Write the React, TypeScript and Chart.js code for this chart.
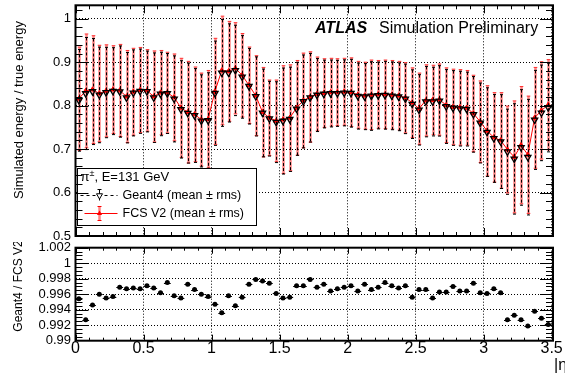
import React, { useEffect, useRef } from 'react';
import { Chart, registerables } from 'chart.js';

Chart.register(...registerables);

const FONT = '"Liberation Sans", Arial, Helvetica, sans-serif';

// |eta| bin centres (bin width 0.05)
const etaCenters = [
  0.025, 0.075, 0.125, 0.175, 0.225, 0.275, 0.325, 0.375, 0.425, 0.475,
  0.525, 0.575, 0.625, 0.675, 0.725, 0.775, 0.825, 0.875, 0.925, 0.975,
  1.025, 1.075, 1.125, 1.175, 1.225, 1.275, 1.325, 1.375, 1.425, 1.475,
  1.525, 1.575, 1.625, 1.675, 1.725, 1.775, 1.825, 1.875, 1.925, 1.975,
  2.025, 2.075, 2.125, 2.175, 2.225, 2.275, 2.325, 2.375, 2.425, 2.475,
  2.525, 2.575, 2.625, 2.675, 2.725, 2.775, 2.825, 2.875, 2.925, 2.975,
  3.025, 3.075, 3.125, 3.175, 3.225, 3.275, 3.325, 3.375, 3.425, 3.475,
];
const binHalfWidth = 0.025;

// FCS V2 mean response
const fcsMean = [
  0.816, 0.834, 0.837, 0.828, 0.834, 0.837, 0.835, 0.821, 0.832, 0.836,
  0.835, 0.821, 0.830, 0.830, 0.819, 0.795, 0.785, 0.780, 0.768, 0.769,
  0.833, 0.881, 0.879, 0.886, 0.870, 0.847, 0.823, 0.785, 0.772, 0.765,
  0.768, 0.772, 0.795, 0.812, 0.820, 0.827, 0.829, 0.831, 0.831, 0.832,
  0.831, 0.825, 0.823, 0.825, 0.826, 0.826, 0.825, 0.823, 0.818, 0.807,
  0.793, 0.812, 0.813, 0.814, 0.801, 0.797, 0.796, 0.795, 0.782, 0.763,
  0.742, 0.727, 0.720, 0.699, 0.682, 0.709, 0.687, 0.772, 0.789, 0.802,
];
// FCS V2 rms
const fcsRms = [
  0.119, 0.131, 0.124, 0.111, 0.106, 0.101, 0.106, 0.106, 0.100, 0.098,
  0.094, 0.105, 0.097, 0.093, 0.100, 0.114, 0.117, 0.109, 0.107, 0.112,
  0.122, 0.125, 0.115, 0.105, 0.096, 0.088, 0.092, 0.103, 0.087, 0.094,
  0.124, 0.122, 0.109, 0.109, 0.104, 0.085, 0.079, 0.078, 0.077, 0.077,
  0.079, 0.077, 0.077, 0.080, 0.078, 0.079, 0.079, 0.079, 0.081, 0.080,
  0.082, 0.082, 0.080, 0.082, 0.086, 0.087, 0.087, 0.086, 0.088, 0.094,
  0.104, 0.103, 0.110, 0.100, 0.129, 0.135, 0.135, 0.116, 0.112, 0.104,
];
// Geant4 rms
const g4Rms = [
  0.117, 0.129, 0.122, 0.110, 0.104, 0.100, 0.105, 0.104, 0.099, 0.097,
  0.093, 0.103, 0.096, 0.092, 0.099, 0.112, 0.115, 0.108, 0.106, 0.110,
  0.120, 0.123, 0.113, 0.104, 0.095, 0.087, 0.091, 0.101, 0.086, 0.093,
  0.122, 0.120, 0.107, 0.107, 0.102, 0.084, 0.078, 0.077, 0.076, 0.076,
  0.078, 0.076, 0.076, 0.079, 0.077, 0.078, 0.078, 0.078, 0.080, 0.079,
  0.081, 0.081, 0.079, 0.081, 0.085, 0.086, 0.086, 0.085, 0.087, 0.092,
  0.102, 0.101, 0.108, 0.098, 0.127, 0.133, 0.133, 0.114, 0.110, 0.102,
];
// Geant4 / FCS V2 ratio of the means
const ratio = [
  0.9954, 0.9927, 0.9946, 0.9960, 0.9955, 0.9957, 0.9969, 0.9967, 0.9968, 0.9967,
  0.9971, 0.9968, 0.9962, 0.9975, 0.9958, 0.9955, 0.9973, 0.9966, 0.9960, 0.9957,
  0.9947, 0.9936, 0.9958, 0.9945, 0.9956, 0.9973, 0.9979, 0.9977, 0.9974, 0.9961,
  0.9955, 0.9956, 0.9971, 0.9971, 0.9979, 0.9969, 0.9973, 0.9964, 0.9967, 0.9969,
  0.9971, 0.9964, 0.9973, 0.9966, 0.9969, 0.9975, 0.9971, 0.9968, 0.9971, 0.9956,
  0.9966, 0.9966, 0.9955, 0.9963, 0.9963, 0.9970, 0.9964, 0.9964, 0.9974, 0.9962,
  0.9961, 0.9967, 0.9962, 0.9927, 0.9933, 0.9927, 0.9919, 0.9938, 0.9929, 0.9921,
];
// Geant4 mean = FCS mean x ratio
const g4Mean = fcsMean.map((m, i) => m * ratio[i]);

const topYTicks = [0.5, 0.6, 0.7, 0.8, 0.9, 1.0];
const topYLabels = ['0.5', '0.6', '0.7', '0.8', '0.9', '1'];
const ratioYTicks = [0.99, 0.992, 0.994, 0.996, 0.998, 1.0, 1.002];
const ratioYLabels = ['0.99', '0.992', '0.994', '0.996', '0.998', '1', '1.002'];
const xTicks = [0, 0.5, 1, 1.5, 2, 2.5, 3, 3.5];
const xTickLabels = ['0', '0.5', '1', '1.5', '2', '2.5', '3', '3.5'];

const X_MIN = 0;
const X_MAX = 3.51;

function steps(min: number, max: number, step: number) {
  const out: number[] = [];
  const n = Math.round((max - min) / step);
  for (let i = 0; i <= n; i++) out.push(min + i * step);
  return out;
}
const xMinor = steps(0, 3.5, 0.1);
const topYMinor = steps(0.5, 1.02, 0.02);
const ratioYMinor = steps(0.99, 1.002, 0.0005);

const RED_BAR = 'rgba(255,50,50,0.6)';

function drawVBars(chart: any, means: number[], errs: number[], color: string, width: number, dash: number[], cap: number, capColor: string) {
  const { ctx, chartArea: a, scales } = chart;
  const x = scales.x, y = scales.y;
  ctx.save();
  ctx.beginPath();
  ctx.rect(a.left, a.top, a.right - a.left, a.bottom - a.top);
  ctx.clip();
  for (let i = 0; i < etaCenters.length; i++) {
    const px = Math.round(x.getPixelForValue(etaCenters[i])) + 0.5;
    const y1 = y.getPixelForValue(means[i] + errs[i]);
    const y2 = y.getPixelForValue(means[i] - errs[i]);
    ctx.strokeStyle = color;
    ctx.lineWidth = width;
    ctx.setLineDash(dash);
    ctx.beginPath();
    ctx.moveTo(px, y1);
    ctx.lineTo(px, y2);
    ctx.stroke();
    ctx.setLineDash([]);
    ctx.strokeStyle = capColor;
    ctx.lineWidth = 1;
    ctx.beginPath();
    ctx.moveTo(px - cap, y1); ctx.lineTo(px + cap, y1);
    ctx.moveTo(px - cap, y2); ctx.lineTo(px + cap, y2);
    ctx.stroke();
  }
  ctx.restore();
}

function drawFrameTicks(chart: any, yMajor: number[], yMinor: number[], xLen: number[], yLen: number[]) {
  const { ctx, chartArea: a, scales } = chart;
  const x = scales.x, y = scales.y;
  ctx.save();
  ctx.strokeStyle = '#000';
  ctx.lineWidth = 1;
  ctx.beginPath();
  const xt = (vals: number[], len: number) => vals.forEach((v) => {
    const p = Math.round(x.getPixelForValue(v)) + 0.5;
    if (p < a.left - 0.5 || p > a.right + 0.5) return;
    ctx.moveTo(p, a.bottom); ctx.lineTo(p, a.bottom - len);
    ctx.moveTo(p, a.top); ctx.lineTo(p, a.top + len);
  });
  const yt = (vals: number[], len: number) => vals.forEach((v) => {
    const p = Math.round(y.getPixelForValue(v)) + 0.5;
    if (p < a.top - 0.5 || p > a.bottom + 0.5) return;
    ctx.moveTo(a.left, p); ctx.lineTo(a.left + len, p);
    ctx.moveTo(a.right, p); ctx.lineTo(a.right - len, p);
  });
  xt(xTicks, xLen[0]);
  xt(xMinor, xLen[1]);
  yt(yMajor, yLen[0]);
  yt(yMinor, yLen[1]);
  ctx.stroke();
  ctx.lineWidth = 2;
  ctx.strokeRect(a.left, a.top, a.right - a.left, a.bottom - a.top);
  ctx.restore();
}

function triangle(ctx: CanvasRenderingContext2D, cx: number, cy: number, r: number, down: boolean) {
  const s = down ? -1 : 1;
  ctx.beginPath();
  ctx.moveTo(cx, cy - s * r);
  ctx.lineTo(cx + r * 0.866, cy + s * r * 0.5);
  ctx.lineTo(cx - r * 0.866, cy + s * r * 0.5);
  ctx.closePath();
}

const topPlugin = {
  id: 'topDeco',
  beforeDatasetDraw(chart: any, args: any) {
    if (args.index === 1) drawVBars(chart, fcsMean, fcsRms, RED_BAR, 2.5, [], 1.8, '#ff3030');
    if (args.index === 0) drawVBars(chart, g4Mean, g4Rms, '#000', 1, [3, 2], 1.5, '#000');
  },
  afterDraw(chart: any) {
    const { ctx, chartArea: a } = chart;
    ctx.save();
    // y title
    ctx.save();
    ctx.translate(19, 110);
    ctx.rotate(-Math.PI / 2);
    ctx.fillStyle = '#000';
    ctx.font = `13px ${FONT}`;
    ctx.textAlign = 'center';
    ctx.textBaseline = 'middle';
    ctx.fillText('Simulated energy / true energy', 0, 0);
    ctx.restore();

    // ATLAS label
    ctx.fillStyle = '#000';
    ctx.textBaseline = 'alphabetic';
    ctx.textAlign = 'left';
    ctx.font = `italic bold 16px ${FONT}`;
    ctx.fillText('ATLAS', 315, 32.5);
    ctx.font = `16px ${FONT}`;
    ctx.fillText('Simulation Preliminary', 379, 32.5);

    // legend box
    const bx = a.left + 2, by = 168.5, bw = 179, bh = 57;
    ctx.fillStyle = '#fff';
    ctx.fillRect(bx, by, bw, bh);
    ctx.strokeStyle = '#000';
    ctx.lineWidth = 1;
    ctx.strokeRect(bx, by, bw, bh);
    ctx.fillStyle = '#000';
    ctx.textBaseline = 'middle';
    ctx.font = `13px ${FONT}`;
    let tx = bx + 3;
    ctx.fillText('π', tx, 177.5);
    tx += ctx.measureText('π').width;
    ctx.font = `9px ${FONT}`;
    ctx.fillText('±', tx, 173.5);
    tx += ctx.measureText('±').width;
    ctx.font = `13px ${FONT}`;
    ctx.fillText(', E=131 GeV', tx, 177.5);

    const mx = bx + 22;
    // Geant4 entry
    let ly = 195.5;
    ctx.strokeStyle = '#000';
    ctx.setLineDash([3, 3]);
    ctx.beginPath(); ctx.moveTo(bx + 3, ly); ctx.lineTo(bx + 40, ly); ctx.stroke();
    ctx.setLineDash([]);
    ctx.beginPath();
    ctx.moveTo(mx, ly - 6); ctx.lineTo(mx, ly + 5);
    ctx.moveTo(mx - 2, ly - 6); ctx.lineTo(mx + 2, ly - 6);
    ctx.stroke();
    ctx.fillStyle = '#fff';
    triangle(ctx, mx, ly, 3.5, true);
    ctx.fill();
    ctx.stroke();
    ctx.fillStyle = '#000';
    ctx.font = `12.5px ${FONT}`;
    ctx.fillText('Geant4 (mean ± rms)', bx + 45, ly);

    // FCS entry
    ly = 213.5;
    ctx.strokeStyle = '#f00';
    ctx.beginPath(); ctx.moveTo(bx + 7, ly); ctx.lineTo(bx + 40, ly); ctx.stroke();
    ctx.strokeStyle = RED_BAR;
    ctx.lineWidth = 2.5;
    ctx.beginPath(); ctx.moveTo(mx, ly - 7); ctx.lineTo(mx, ly + 7); ctx.stroke();
    ctx.lineWidth = 1;
    ctx.strokeStyle = '#f00';
    ctx.beginPath();
    ctx.moveTo(mx - 2, ly - 7); ctx.lineTo(mx + 2, ly - 7);
    ctx.moveTo(mx - 2, ly + 7); ctx.lineTo(mx + 2, ly + 7);
    ctx.stroke();
    ctx.fillStyle = '#f00';
    triangle(ctx, mx, ly, 3.0, false);
    ctx.fill();
    ctx.fillStyle = '#000';
    ctx.fillText('FCS V2 (mean ± rms)', bx + 45, ly);
    ctx.restore();

    drawFrameTicks(chart, topYTicks, topYMinor, [8, 4], [13, 7]);
  },
};

const bottomPlugin = {
  id: 'bottomDeco',
  beforeDatasetsDraw(chart: any) {
    const { ctx, scales } = chart;
    const x = scales.x, y = scales.y;
    ctx.save();
    ctx.strokeStyle = '#000';
    ctx.lineWidth = 1;
    ctx.beginPath();
    for (let i = 0; i < etaCenters.length; i++) {
      const py = Math.round(y.getPixelForValue(ratio[i])) + 0.5;
      ctx.moveTo(x.getPixelForValue(etaCenters[i] - binHalfWidth), py);
      ctx.lineTo(x.getPixelForValue(etaCenters[i] + binHalfWidth), py);
    }
    ctx.stroke();
    ctx.restore();
  },
  afterDraw(chart: any) {
    const { ctx } = chart;
    ctx.save();
    ctx.translate(19, 44);
    ctx.rotate(-Math.PI / 2);
    ctx.fillStyle = '#000';
    ctx.font = `12px ${FONT}`;
    ctx.textAlign = 'center';
    ctx.textBaseline = 'middle';
    ctx.fillText('Geant4 / FCS V2', 0, 0);
    ctx.restore();

    ctx.save();
    ctx.fillStyle = '#000';
    ctx.font = `16px ${FONT}`;
    ctx.textAlign = 'left';
    ctx.textBaseline = 'middle';
    ctx.fillText('|η|', 554, 124);
    ctx.restore();

    drawFrameTicks(chart, ratioYTicks, ratioYMinor, [6, 3], [13, 7]);
  },
};

function gridOpts() {
  return { color: '#000', lineWidth: 1, drawTicks: false };
}

export default function App() {
  const topRef = useRef<HTMLCanvasElement>(null);
  const botRef = useRef<HTMLCanvasElement>(null);

  useEffect(() => {
    const top = new Chart(topRef.current as HTMLCanvasElement, {
      type: 'scatter',
      data: {
        datasets: [
          {
            label: 'Geant4 (mean ± rms)',
            data: etaCenters.map((x, i) => ({ x, y: g4Mean[i] })),
            showLine: false,
            pointStyle: 'triangle',
            pointRotation: 180,
            pointRadius: 3.6,
            pointBackgroundColor: 'rgba(0,0,0,0)',
            pointBorderColor: '#000',
            pointBorderWidth: 1.3,
          },
          {
            label: 'FCS V2 (mean ± rms)',
            data: etaCenters.map((x, i) => ({ x, y: fcsMean[i] })),
            showLine: true,
            borderColor: '#f00',
            borderWidth: 1,
            pointStyle: 'triangle',
            pointRadius: 2.8,
            pointBackgroundColor: '#f00',
            pointBorderColor: '#f00',
            pointBorderWidth: 1,
          },
        ],
      } as any,
      options: {
        animation: false,
        responsive: false,
        devicePixelRatio: 1,
        events: [],
        layout: { padding: { top: 5, right: 12, bottom: 0, left: 0 } },
        plugins: { legend: { display: false }, tooltip: { enabled: false } },
        scales: {
          x: {
            type: 'linear',
            min: X_MIN,
            max: X_MAX,
            afterBuildTicks: (s: any) => { s.ticks = xTicks.map((v) => ({ value: v })); },
            afterFit: (s: any) => { s.height = 6; s.paddingLeft = 0; s.paddingRight = 0; },
            ticks: { display: false },
            grid: gridOpts(),
            border: { display: false, dash: [1, 2] },
          },
          y: {
            type: 'linear',
            min: 0.5,
            max: 1.031,
            afterBuildTicks: (s: any) => { s.ticks = topYTicks.map((v) => ({ value: v })); },
            afterFit: (s: any) => { s.width = 75.5; s.paddingTop = 0; s.paddingBottom = 0; },
            ticks: {
              font: { family: FONT, size: 13 },
              color: '#000',
              padding: 4.5,
              autoSkip: false,
              callback: (_v: any, i: number) => topYLabels[i],
            },
            grid: gridOpts(),
            border: { display: false, dash: [1, 2] },
          },
        },
      } as any,
      plugins: [topPlugin],
    });

    const bottom = new Chart(botRef.current as HTMLCanvasElement, {
      type: 'scatter',
      data: {
        datasets: [
          {
            label: 'Geant4 / FCS V2',
            data: etaCenters.map((x, i) => ({ x, y: ratio[i] })),
            showLine: false,
            pointStyle: 'circle',
            pointRadius: 2.5,
            pointBackgroundColor: '#000',
            pointBorderColor: '#000',
            pointBorderWidth: 0,
          },
        ],
      } as any,
      options: {
        animation: false,
        responsive: false,
        devicePixelRatio: 1,
        events: [],
        layout: { padding: { top: 5.7, right: 12, bottom: 0, left: 0 } },
        plugins: { legend: { display: false }, tooltip: { enabled: false } },
        scales: {
          x: {
            type: 'linear',
            min: X_MIN,
            max: X_MAX,
            afterBuildTicks: (s: any) => { s.ticks = xTicks.map((v) => ({ value: v })); },
            afterFit: (s: any) => { s.height = 35.3; s.paddingLeft = 0; s.paddingRight = 0; },
            ticks: {
              font: { family: FONT, size: 16 },
              color: '#000',
              padding: -2,
              maxRotation: 0,
              autoSkip: false,
              callback: (_v: any, i: number) => xTickLabels[i],
            },
            grid: gridOpts(),
            border: { display: false, dash: [1, 2] },
          },
          y: {
            type: 'linear',
            min: 0.99,
            max: 1.002,
            afterBuildTicks: (s: any) => { s.ticks = ratioYTicks.map((v) => ({ value: v })); },
            afterFit: (s: any) => { s.width = 75.5; s.paddingTop = 0; s.paddingBottom = 0; },
            ticks: {
              font: { family: FONT, size: 13 },
              color: '#000',
              padding: 4.5,
              autoSkip: false,
              callback: (_v: any, i: number) => ratioYLabels[i],
            },
            grid: gridOpts(),
            border: { display: false, dash: [1, 2] },
          },
        },
      } as any,
      plugins: [bottomPlugin],
    });

    return () => {
      top.destroy();
      bottom.destroy();
    };
  }, []);

  return (
    <div style={{ position: 'fixed', left: 0, top: 0, width: 565, height: 376, background: '#fff' }}>
      <canvas
        ref={topRef}
        width={565}
        height={242}
        style={{ position: 'absolute', left: 0, top: 0, width: 565, height: 242 }}
      />
      <canvas
        ref={botRef}
        width={565}
        height={134}
        style={{ position: 'absolute', left: 0, top: 242, width: 565, height: 134 }}
      />
    </div>
  );
}
